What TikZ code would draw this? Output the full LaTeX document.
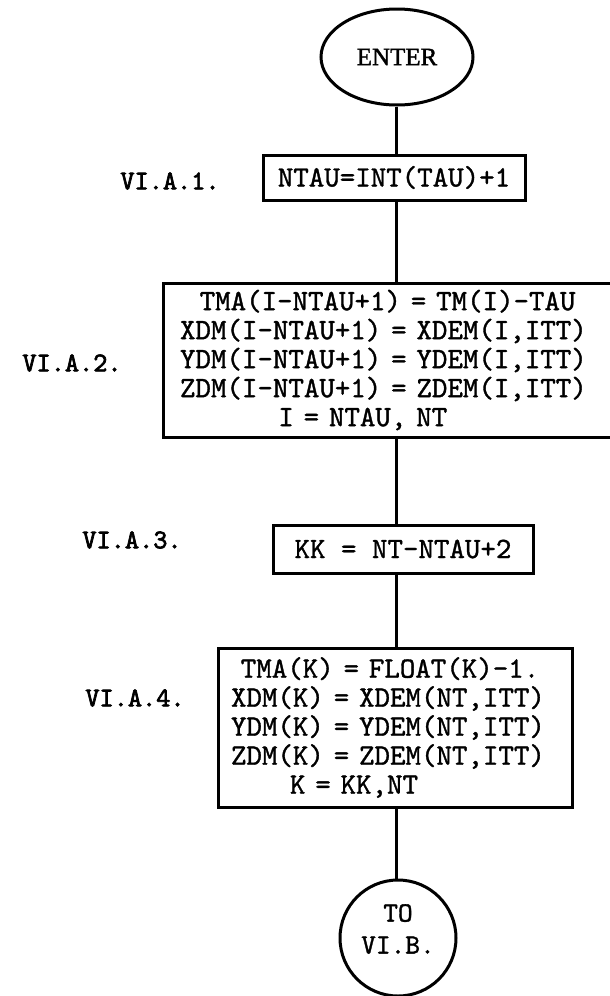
\documentclass[tikz,border=0pt]{standalone}
\usepackage{fontspec}
\usetikzlibrary{shapes.geometric}
\newfontfamily\twfont{lmmono10-regular.otf}[FakeBold=1.2]
\newfontfamily\twbold{lmmono10-regular.otf}[FakeBold=2.5]
\newfontfamily\serfont{Liberation Serif}[FakeBold=1.5]
\tikzset{
  pbox/.style={draw, rectangle, inner sep=0pt, font=\twfont\fontsize{29.5}{29}\selectfont},
  lbl/.style={font=\twbold\fontsize{27}{27}\selectfont, inner sep=0pt},
  term/.style={draw, inner sep=0pt},
}
\begin{document}
\begin{tikzpicture}[x=1pt, y=-1pt, line width=3pt]
\fill[white] (0,0) rectangle (610,996);
\useasboundingbox (0,0) rectangle (610,996);
\coordinate (ax) at (396,0);
% terminals
\node[term, ellipse, minimum width=152pt, minimum height=96pt, font=\serfont\fontsize{25}{26}\selectfont] (enter) at (397,57) {ENTER};
\node[term, circle, minimum size=116pt] (to) at (398,938) {};
\node[font=\twfont\fontsize{28}{32}\selectfont, align=center, inner sep=0pt] (tot) at (398,929) {TO\\VI.B.};
% boxes
\node[pbox, minimum width=262pt, minimum height=45pt] (b1) at (394,177.5) {NTAU=INT(TAU)+1};
\node[pbox, align=left, text width=423pt, inner xsep=17pt, minimum height=154pt] (b2) at (391.5,360)
  {~~TMA(I-NTAU+1) = TM(I)-TAU\\XDM(I-NTAU+1) = XDEM(I,ITT)\\YDM(I-NTAU+1) = YDEM(I,ITT)\\ZDM(I-NTAU+1) = ZDEM(I,ITT)\\~~~~~~~~~~I = NTAU, NT};
\node[pbox, minimum width=260pt, minimum height=48pt] (b3) at (403,549) {KK = NT-NTAU+2};
\node[pbox, align=left, text width=328pt, inner xsep=13pt, minimum height=159pt] (b4) at (395,727.5)
  {~TMA(K) = FLOAT(K)-1.\\XDM(K) = XDEM(NT,ITT)\\YDM(K) = YDEM(NT,ITT)\\ZDM(K) = ZDEM(NT,ITT)\\~~~~~~K = KK,NT};
% labels
\node[lbl] (l1) at (170,181) {VI.A.1.};
\node[lbl] (l2) at (72,363) {VI.A.2.};
\node[lbl] (l3) at (132,540) {VI.A.3.};
\node[lbl] (l4) at (135,698) {VI.A.4.};
% connectors
\draw (ax |- enter.south) -- (ax |- b1.north);
\draw (ax |- b1.south) -- (ax |- b2.north);
\draw (ax |- b2.south) -- (ax |- b3.north);
\draw (ax |- b3.south) -- (ax |- b4.north);
\draw (ax |- b4.south) -- (ax |- to.north);
\end{tikzpicture}
\end{document}
